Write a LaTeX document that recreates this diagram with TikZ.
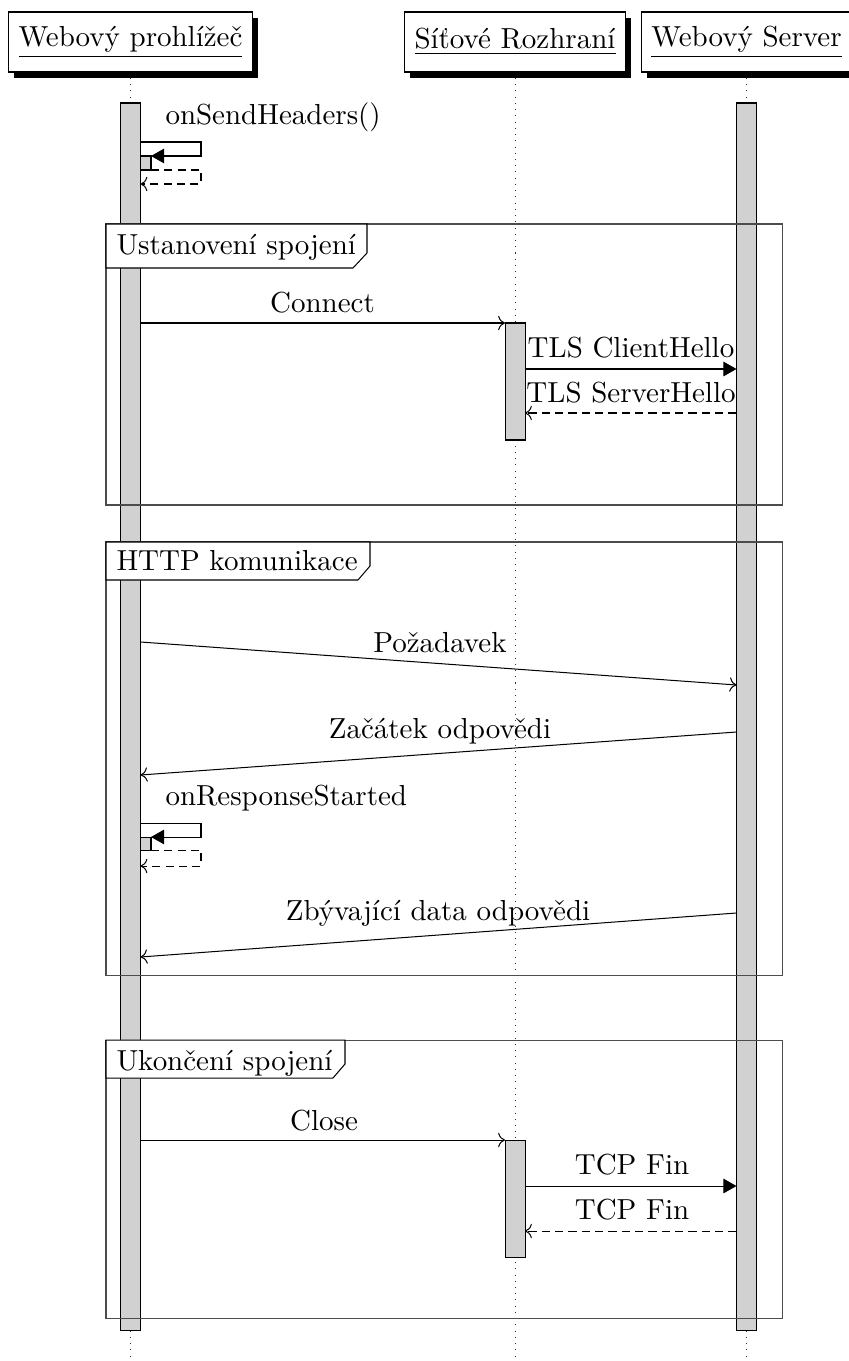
\documentclass[tikz,border=0pt]{standalone}
\usetikzlibrary{arrows.meta,shadows}
\begin{document}
\begin{tikzpicture}[x=0.345pt,y=-0.345pt,line width=0.35pt,
  hdr/.style={draw,fill=white,minimum height=20.7pt,inner xsep=3.4pt,
    drop shadow={shadow xshift=2pt,shadow yshift=-2pt,fill=black,opacity=1}},
  lifeline/.style={dash pattern=on 0.35pt off 1.8pt,draw=black!80},
  act/.style={draw,fill=black!18},
  frm/.style={draw=black!70},
  flab/.style={draw,fill=white},
  call/.style={-{Triangle[length=4.5pt,width=5pt]}},
  msg/.style={->},
  ret/.style={->,dash pattern=on 2.8pt off 1.8pt},
  lbl/.style={inner sep=0pt,anchor=base}
]
\useasboundingbox (0,0) rectangle (849,1361);
% headers
\node[hdr] (browser) at (130.5,42) {\underline{Webový prohlížeč}};
\node[hdr] (net) at (515,42) {\underline{Síťové Rozhraní}};
\node[hdr] (server) at (746.5,42) {\underline{Webový Server}};
% lifelines
\coordinate (bEnd) at (130.5,1361);
\coordinate (nEnd) at (515,1361);
\coordinate (sEnd) at (746.5,1361);
\draw[lifeline] (130.5,78) -- (bEnd);
\draw[lifeline] (515,78) -- (nEnd);
\draw[lifeline] (746.5,78) -- (sEnd);
% activation bars
\draw[act] (120.5,103) rectangle (140.5,1330);
\draw[act] (736.5,103) rectangle (756.5,1330);
\draw[act] (505,323) rectangle (525,440);
\draw[act] (505,1140) rectangle (525,1257);
\draw (756.5,369) -- (756.5,413);
\draw (756.5,1186) -- (756.5,1231);
% frames
\draw[frm] (106,224) rectangle (782,505);
\draw[flab] (106,224) -- (367,224) -- (367,253) -- (353,268) -- (106,268) -- cycle;
\node[lbl,anchor=base west] (f1) at (116,255) {Ustanovení spojení};
\draw[frm] (106,542) rectangle (782,975);
\draw[flab] (106,542) -- (370,542) -- (370,566) -- (358,580) -- (106,580) -- cycle;
\node[lbl,anchor=base west] (f2) at (116,570) {HTTP komunikace};
\draw[frm] (106,1040) rectangle (782,1318);
\draw[flab] (106,1040) -- (345,1040) -- (345,1064) -- (333,1078) -- (106,1078) -- cycle;
\node[lbl,anchor=base west] (f3) at (116,1070) {Ukončení spojení};
% self call 1
\coordinate (s1a) at (140.5,142);
\coordinate (s1b) at (201,142);
\coordinate (s1c) at (201,156);
\coordinate (s1d) at (151,156);
\draw[act] (140.5,156) rectangle (151,170);
\draw[call] (s1a) -- (s1b) -- (s1c) -- (s1d);
\coordinate (r1a) at (151,170);
\coordinate (r1b) at (201,170);
\coordinate (r1c) at (201,184);
\coordinate (r1d) at (140.5,184);
\draw[ret] (r1a) -- (r1b) -- (r1c) -- (r1d);
\node[lbl,anchor=base west] (l1) at (165,125) {onSendHeaders()};
% Connect
\coordinate (c1a) at (140.5,323);
\coordinate (c1b) at (505,323);
\draw[msg] (c1a) -- (c1b);
\node[lbl] (l2) at (322.5,313) {Connect};
% TLS
\coordinate (t1a) at (525,369);
\coordinate (t1b) at (736.5,369);
\draw[call] (t1a) -- (t1b);
\node[lbl] (l3) at (631,357) {TLS ClientHello};
\coordinate (t2a) at (736.5,413);
\coordinate (t2b) at (525,413);
\draw[ret] (t2a) -- (t2b);
\node[lbl] (l4) at (631,402) {TLS ServerHello};
% HTTP
\coordinate (h1a) at (140.5,642);
\coordinate (h1b) at (736.5,685);
\draw[msg] (h1a) -- (h1b);
\node[lbl] (l5) at (440,652) {Požadavek};
\coordinate (h2a) at (736.5,732);
\coordinate (h2b) at (140.5,775);
\draw[msg] (h2a) -- (h2b);
\node[lbl] (l6) at (440,738) {Začátek odpovědi};
% self call 2
\coordinate (s2a) at (140.5,823);
\coordinate (s2b) at (201,823);
\coordinate (s2c) at (201,837);
\coordinate (s2d) at (151,837);
\draw[act] (140.5,837) rectangle (151,850);
\draw[call] (s2a) -- (s2b) -- (s2c) -- (s2d);
\coordinate (r2a) at (151,850);
\coordinate (r2b) at (201,850);
\coordinate (r2c) at (201,866);
\coordinate (r2d) at (140.5,866);
\draw[ret] (r2a) -- (r2b) -- (r2c) -- (r2d);
\node[lbl,anchor=base west] (l7) at (165,805) {onResponseStarted};
\coordinate (h3a) at (736.5,913);
\coordinate (h3b) at (140.5,957);
\draw[msg] (h3a) -- (h3b);
\node[lbl] (l8) at (438,920) {Zbývající data odpovědi};
% Close
\coordinate (k1a) at (140.5,1140);
\coordinate (k1b) at (505,1140);
\draw[msg] (k1a) -- (k1b);
\node[lbl] (l9) at (324,1130) {Close};
\coordinate (k2a) at (525,1186);
\coordinate (k2b) at (736.5,1186);
\draw[call] (k2a) -- (k2b);
\node[lbl] (l10) at (632,1174) {TCP Fin};
\coordinate (k3a) at (736.5,1231);
\coordinate (k3b) at (525,1231);
\draw[ret] (k3a) -- (k3b);
\node[lbl] (l11) at (632,1219) {TCP Fin};
\end{tikzpicture}
\end{document}
